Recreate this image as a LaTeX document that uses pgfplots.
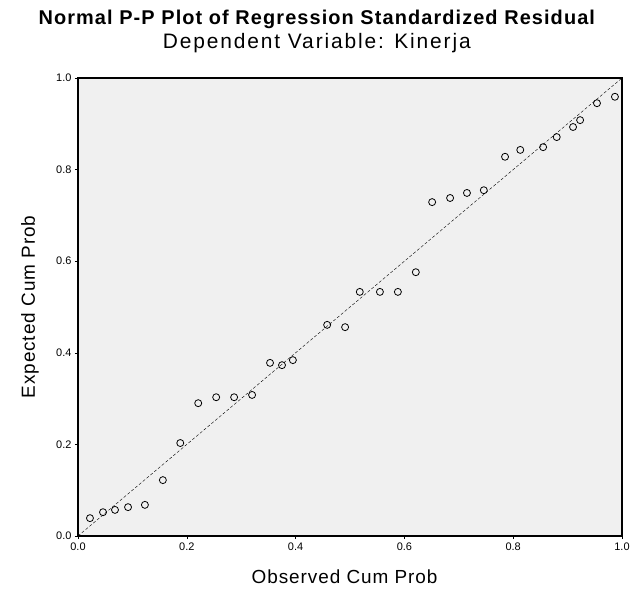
\documentclass[border=0pt]{standalone}
\usepackage{pgfplots}
\pgfplotsset{compat=1.18}
\usepackage{fontspec}
\setmainfont{Liberation Sans}
\definecolor{bgc}{RGB}{240,240,240}
\begin{document}
\begin{tikzpicture}
\begin{axis}[
  scale only axis,
  width=544bp, height=458bp,
  xmin=0, xmax=1, ymin=0, ymax=1,
  axis background/.style={fill=bgc},
  xtick={0,0.2,0.4,0.6,0.8,1.0},
  ytick={0,0.2,0.4,0.6,0.8,1.0},
  xticklabels={0.0,0.2,0.4,0.6,0.8,1.0},
  yticklabels={0.0,0.2,0.4,0.6,0.8,1.0},
  tick align=outside,
  tick style={black, thin},
  major tick length=3bp,
  xtick pos=bottom, ytick pos=left,
  ticklabel style={font=\fontsize{11}{13}\selectfont},
  xlabel={Observed Cum Prob},
  ylabel={Expected Cum Prob},
  label style={font=\fontsize{19}{22}\selectfont\addfontfeatures{LetterSpace=5}},
  xlabel style={at={(rel axis cs:0.49,0)}, yshift=-41bp, anchor=center},
  ylabel style={at={([xshift=-48bp]rel axis cs:0,0.5)}, anchor=center},
  axis line style={black, line width=1.2pt},
  clip=false,
]
\addplot[black, thin, densely dashed, no marks] coordinates {(0,0) (1,1)};
\addplot[only marks, mark=o, mark size=3.5bp, mark options={black, line width=0.8pt}] coordinates {
(0.022,0.039) (0.046,0.052) (0.068,0.057) (0.092,0.063) (0.123,0.068)
(0.156,0.122) (0.188,0.203) (0.221,0.290) (0.254,0.303) (0.287,0.303)
(0.320,0.308) (0.353,0.378) (0.375,0.373) (0.395,0.384) (0.458,0.461)
(0.491,0.456) (0.518,0.533) (0.555,0.533) (0.588,0.533) (0.621,0.576)
(0.651,0.729) (0.684,0.738) (0.715,0.749) (0.746,0.755) (0.785,0.828)
(0.813,0.843) (0.855,0.849) (0.880,0.871) (0.910,0.893) (0.923,0.908)
(0.954,0.945) (0.987,0.959)
};
\node[font=\fontsize{20}{23}\selectfont\bfseries\addfontfeatures{LetterSpace=5.5}] at ([yshift=59bp]rel axis cs:0.439,1) {Normal P-P Plot of Regression Standardized Residual};
\node[font=\fontsize{21}{24}\selectfont\addfontfeatures{LetterSpace=9}] at ([yshift=35bp]rel axis cs:0.439,1) {Dependent Variable: Kinerja};
\path ([xshift=-78bp,yshift=-54bp]rel axis cs:0,0) rectangle ([xshift=12bp,yshift=78bp]rel axis cs:1,1);
\end{axis}
\end{tikzpicture}
\end{document}
